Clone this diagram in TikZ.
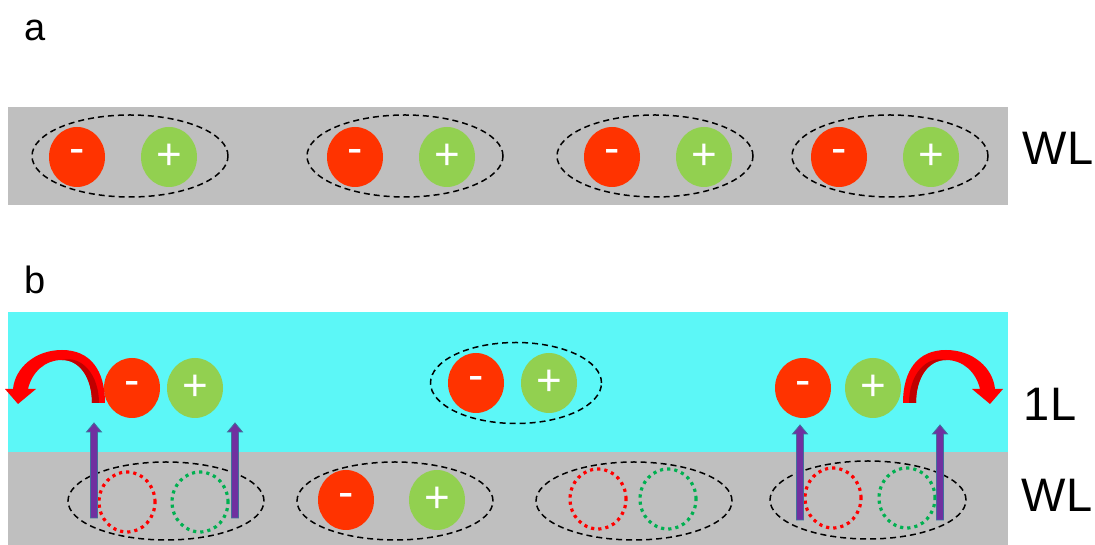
\documentclass[tikz,border=0pt]{standalone}
\usepackage{fontspec}
\setmainfont{Liberation Sans}
\usetikzlibrary{shapes.geometric}
\definecolor{bandgray}{RGB}{191,191,191}
\definecolor{bandcyan}{RGB}{92,247,247}
\definecolor{negred}{RGB}{255,51,0}
\definecolor{posgreen}{RGB}{146,208,80}
\definecolor{dotred}{RGB}{255,0,0}
\definecolor{dotgreen}{RGB}{0,176,80}
\definecolor{arrpurple}{RGB}{112,48,160}
\definecolor{arrblue}{RGB}{65,113,156}
\definecolor{curvred}{RGB}{255,0,0}
\definecolor{curvdark}{RGB}{192,0,0}
\tikzset{
  negball/.style={ellipse,fill=negred,minimum width=56pt,minimum height=60pt,inner sep=0pt,text=white,font=\fontsize{46}{46}\selectfont},
  posball/.style={ellipse,fill=posgreen,minimum width=56pt,minimum height=60pt,inner sep=0pt,text=white,font=\fontsize{44}{44}\selectfont},
  pairell/.style={ellipse,draw=black,line width=1.5pt,dash pattern=on 6pt off 4pt,inner sep=0pt},
  ghostneg/.style={ellipse,draw=dotred,line width=3.2pt,dash pattern=on 3.2pt off 4pt,minimum width=56pt,minimum height=60pt,inner sep=0pt},
  ghostpos/.style={ellipse,draw=dotgreen,line width=3.2pt,dash pattern=on 3.2pt off 4pt,minimum width=56pt,minimum height=60pt,inner sep=0pt},
  lbl/.style={font=\fontsize{47}{47}\selectfont,inner sep=0pt},
  panel/.style={font=\fontsize{38}{38}\selectfont,inner sep=0pt},
  uparrow/.pic={\filldraw[fill=arrpurple,draw=arrblue,line width=0.8pt]
     (-3.5,0) -- (-3.5,86) -- (-7.5,86) -- (0,95) -- (7.5,86) -- (3.5,86) -- (3.5,0) -- cycle;},
  curvarrow/.pic={
    \fill[curvred] (105,142) .. controls (105,175) and (90,195) .. (62,195)
       .. controls (35,195) and (15,177) .. (13,156)
       -- (5,156) -- (18,141) -- (36,156) -- (28,156)
       .. controls (32,173) and (45,185) .. (62,185)
       .. controls (80,185) and (92,167) .. (92,142) -- cycle;
    \fill[curvdark] (92,142) .. controls (92,167) and (80,185) .. (62,185)
       .. controls (82,190) and (99,170) .. (99,142) -- cycle;}
}
\begin{document}
\begin{tikzpicture}[x=1pt,y=1pt]
\useasboundingbox (0,0) rectangle (1095,545);
% bands
\fill[bandgray] (8,340) rectangle (1008,438);
\fill[bandcyan] (8,93) rectangle (1008,233);
\fill[bandgray] (8,0) rectangle (1008,93);
% panel labels
\node[panel] (la) at (35,515) {a};
\node[panel] (lb) at (35,265) {b};
% layer labels
\node[lbl] (wla) at (1058,397) {WL};
\node[lbl] (one) at (1050,141) {1L};
\node[lbl] (wlb) at (1057,50) {WL};
% panel a pairs
\node[pairell,minimum width=196pt,minimum height=82pt] (ea1) at (130,389) {};
\node[negball] (na1) at (77,388) {-};
\node[posball] (pa1) at (169,388) {+};
\node[pairell,minimum width=196pt,minimum height=82pt] (ea2) at (405,389) {};
\node[negball] (na2) at (355,388) {-};
\node[posball] (pa2) at (447,388) {+};
\node[pairell,minimum width=196pt,minimum height=82pt] (ea3) at (655,389) {};
\node[negball] (na3) at (612,388) {-};
\node[posball] (pa3) at (704,388) {+};
\node[pairell,minimum width=196pt,minimum height=82pt] (ea4) at (890,389) {};
\node[negball] (na4) at (839,388) {-};
\node[posball] (pa4) at (931,388) {+};
% panel b, WL row
\node[pairell,minimum width=196pt,minimum height=78pt] (eb1) at (166,44) {};
\node[ghostneg] (gn1) at (127,43) {};
\node[ghostpos] (gp1) at (200,43) {};
\node[pairell,minimum width=196pt,minimum height=78pt] (eb2) at (395,44) {};
\node[negball] (nb2) at (346,45) {-};
\node[posball] (pb2) at (437,45) {+};
\node[pairell,minimum width=196pt,minimum height=78pt] (eb3) at (634,44) {};
\node[ghostneg] (gn3) at (598,46) {};
\node[ghostpos] (gp3) at (668,46) {};
\node[pairell,minimum width=196pt,minimum height=78pt] (eb4) at (868,45) {};
\node[ghostneg] (gn4) at (833,47) {};
\node[ghostpos] (gp4) at (907,47) {};
% panel b, 1L row
\node[negball] (n1l) at (132,157) {-};
\node[posball] (p1l) at (195,157) {+};
\node[pairell,minimum width=171pt,minimum height=81pt] (em) at (516,162) {};
\node[negball] (nm) at (476,162) {-};
\node[posball] (pm) at (549,162) {+};
\node[negball] (n1r) at (803,157) {-};
\node[posball] (p1r) at (873,157) {+};
% purple arrows
\pic at (94,27) {uparrow};
\pic at (235,27) {uparrow};
\pic at (800,25) {uparrow};
\pic at (940,25) {uparrow};
% curved red arrows
\pic at (0,0) {curvarrow};
\pic[xscale=-1] at (1008,0) {curvarrow};
\end{tikzpicture}
\end{document}
